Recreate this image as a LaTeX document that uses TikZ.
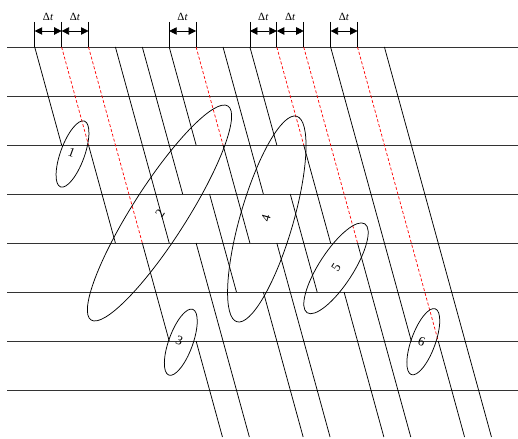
\documentclass[tikz,border=0pt]{standalone}
\usepackage{fontspec}
\setmainfont{Liberation Serif}
\usetikzlibrary{arrows.meta}
\begin{document}
\begin{tikzpicture}[x=1pt,y=-1pt,
  hline/.style={line width=0.9pt, black!80},
  blk/.style={line width=0.75pt, black},
  reddash/.style={line width=0.7pt, red, dash pattern=on 3pt off 2pt},
  tickline/.style={line width=0.75pt, black},
  dtarrow/.style={line width=0.75pt, {Triangle[length=7.5pt,width=7.5pt]}-{Triangle[length=7.5pt,width=7.5pt]}},
  dtlabel/.style={font=\fontsize{11}{13}\selectfont, inner sep=0pt},
  elab/.style={font=\fontsize{13}{15}\selectfont, inner sep=0pt},
  ell/.style={line width=0.75pt, black}]
\useasboundingbox (0,0) rectangle (518,438);
% horizontal levels
\foreach \i in {0,...,7}
  \draw[hline] (7,{47+49*\i}) -- (518,{47+49*\i});
% red dashed (delayed) paths
\foreach \k/\a/\b in {1/0/2, 2/0/4, 6/0/2, 9/0/2, 10/0/4, 12/0/6}
  \draw[reddash] ({34.7+26.9*\k+13.45*\a},{47+49*\a}) -- ({34.7+26.9*\k+13.45*\b},{47+49*\b});
% black paths
\foreach \k/\a/\b in {0/0/2, 3/0/4, 4/0/3, 5/0/2, 7/0/3, 8/0/2, 11/0/6, 13/0/7.959,
    1/2/4, 2/4/6, 3/6/7.959, 4/4/7.959, 5/3/5, 6/2/4, 6/5/7.959, 7/4/7.959,
    8/3/5, 9/2/4, 9/5/7.959, 10/4/7.959, 12/6/7.959}
  \draw[blk] ({34.7+26.9*\k+13.45*\a},{47+49*\a}) -- ({34.7+26.9*\k+13.45*\b},{47+49*\b});
% ticks and delta t arrows
\foreach \k in {0,1,2,5,6,8,9,10,11,12}
  \draw[tickline] ({34.7+26.9*\k},22) -- ({34.7+26.9*\k},47);
\foreach \k in {0,1,5,8,9,11} {
  \draw[dtarrow] ({34.7+26.9*\k},31) -- ({34.7+26.9*(\k+1)},31);
  \node[dtlabel] (dt\k) at ({34.7+26.9*\k+13.45},16.5) {Δ\textit{t}};
}
% ellipses
\draw[ell, rotate around={-20:(72.5,154)}] (72.5,154) ellipse (12 and 35);
\draw[ell, rotate around={57.4:(159.5,213)}] (159.5,213) ellipse (127 and 27);
\draw[ell, rotate around={-20:(180.8,342.2)}] (180.8,342.2) ellipse (12 and 35);
\draw[ell, rotate around={73.8:(266.8,219)}] (266.8,219) ellipse (107 and 26.5);
\draw[ell, rotate around={57:(336,268.3)}] (336,268.3) ellipse (53 and 17);
\draw[ell, rotate around={-20:(423.3,341.7)}] (423.3,341.7) ellipse (12 and 35);
% labels
\node[elab, rotate=-20] (e1) at (71.7,152.5) {1};
\node[elab, rotate=57] (e2) at (160,213) {2};
\node[elab, rotate=-20] (e3) at (179.3,341) {3};
\node[elab, rotate=74] (e4) at (266,218) {4};
\node[elab, rotate=57] (e5) at (336,267) {5};
\node[elab, rotate=-20] (e6) at (421.7,341.7) {6};
\end{tikzpicture}
\end{document}
